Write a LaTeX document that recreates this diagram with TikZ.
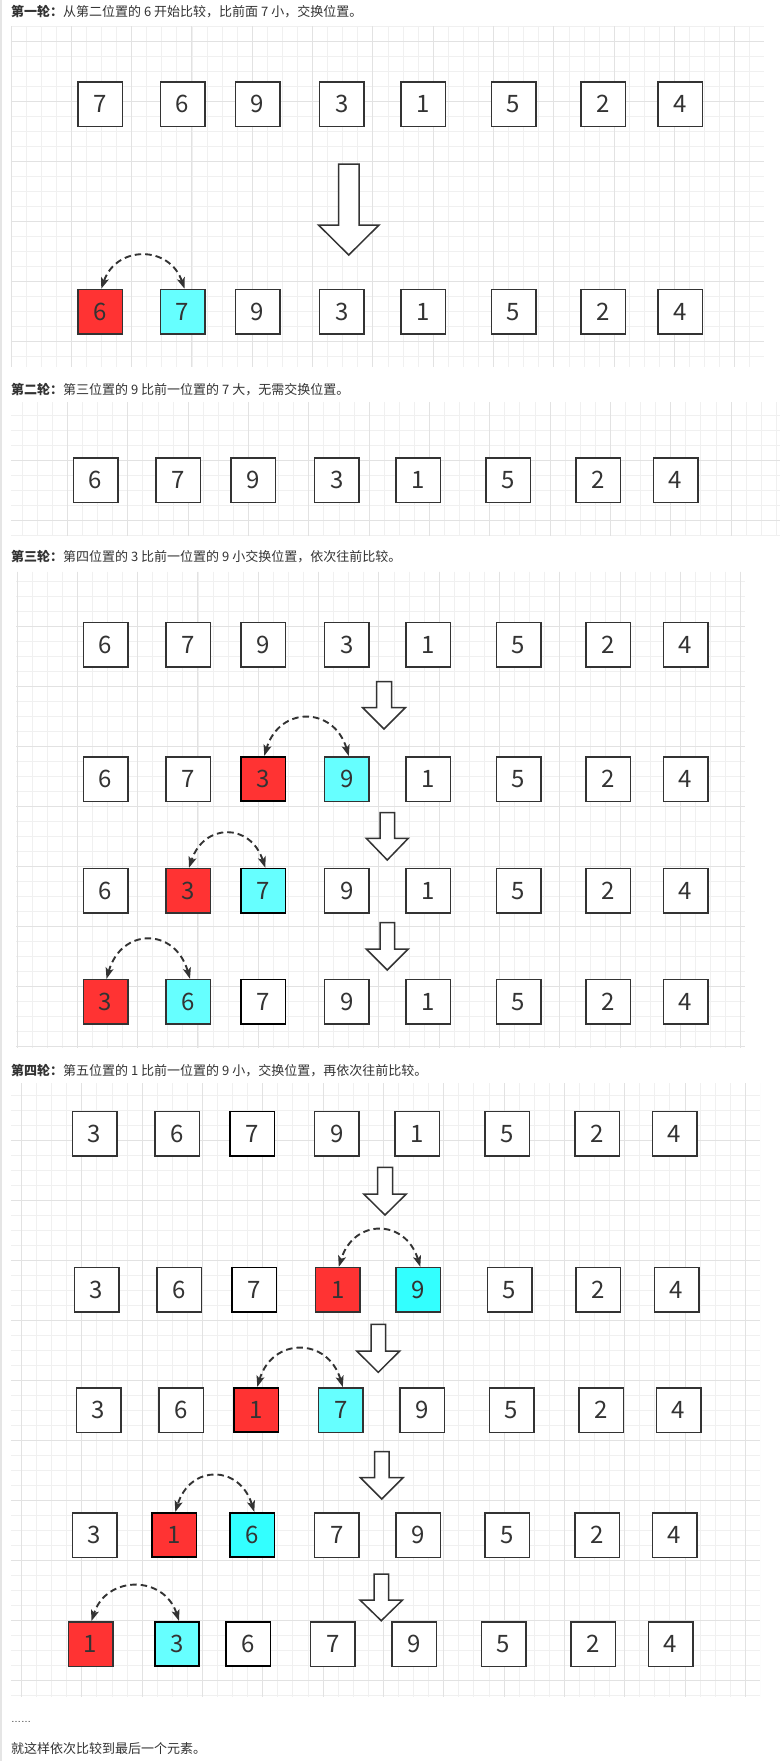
\documentclass[tikz,border=0pt]{standalone}
\usepackage{fontspec}
\setmainfont{Noto Sans CJK SC}
\newfontfamily\digitfont{Noto Sans CJK SC}
\newfontfamily\latinfont{Liberation Sans}
\usetikzlibrary{arrows.meta}
\definecolor{ink}{HTML}{333333}
\definecolor{redf}{HTML}{FF3333}
\definecolor{cyanf}{HTML}{66FFFF}
\definecolor{cyanb}{HTML}{33FFFF}
\definecolor{gminor}{HTML}{F0F0F0}
\definecolor{gmajor}{HTML}{E2E2E2}
\tikzset{
  wbox/.style={draw=ink, line width=1.5pt, fill=white, minimum width=44.5pt, minimum height=44.5pt, inner sep=0pt, text=ink, font=\digitfont\fontsize{24}{24}\selectfont},
  wboxk/.style={wbox, draw=black, line width=1.7pt},
  rbox/.style={wbox, fill=redf},
  rboxk/.style={wboxk, fill=redf},
  cbox/.style={wbox, fill=cyanf},
  cboxk/.style={wboxk, fill=cyanf},
  bbox/.style={wbox, fill=cyanb},
  bboxk/.style={wboxk, fill=cyanb},
  gminorline/.style={draw=gminor, line width=0.9pt},
  gmajorline/.style={draw=gmajor, line width=1pt},
  swaparc/.style={draw=ink, line width=1.9pt, dash pattern=on 6.5pt off 4pt,
     {Stealth[length=11pt,width=8pt,inset=2.5pt]}-{Stealth[length=11pt,width=8pt,inset=2.5pt]}},
  blockarrow/.style={draw=ink, line width=1.5pt, fill=white, line join=miter},
  title/.style={anchor=base west, inner sep=0pt, text=ink, font=\fontsize{13}{13}\selectfont}
}
% grid: x0 y0 x1 y1 originx originy
\newcommand\panelgrid[6]{%
  \begin{scope}
    \clip (#1,#2) rectangle (#3,#4);
    \foreach \i in {-8,...,56}{\draw[gminorline] ({#5+15.08*\i},#2) -- ({#5+15.08*\i},#4);}
    \foreach \i in {-8,...,44}{\draw[gminorline] (#1,{#6+15*\i}) -- (#3,{#6+15*\i});}
    \foreach \i in {-2,...,14}{\draw[gmajorline] ({#5+60.32*\i},#2) -- ({#5+60.32*\i},#4);}
    \foreach \i in {-2,...,11}{\draw[gmajorline] (#1,{#6+60*\i}) -- (#3,{#6+60*\i});}
  \end{scope}}
% row of boxes: prefix, y, list x/label/style
\newcommand\boxrow[3]{%
  \foreach \x/\t/\s [count=\k] in {#3} {\node[\s] (#1\k) at (\x,#2) {\t};}}
% block arrow: cx, top, headtop, tip, shaft half, head half
\newcommand\blockarr[6]{%
  \draw[blockarrow] ({#1-#5},#2) -- ({#1+#5},#2) -- ({#1+#5},#3) -- ({#1+#6},#3)
     -- (#1,#4) -- ({#1-#6},#3) -- ({#1-#5},#3) -- cycle;}
% swap arc: from cyan node to red node, height control
\newcommand\swaparc[3]{%
  \draw[swaparc] ([xshift=2pt]#1.north) .. controls +(-15,-#3) and +(15,-#3) .. ([xshift=1pt]#2.north);}

\begin{document}
\begin{tikzpicture}[x=1pt,y=-1pt]
\fill[white] (0,0) rectangle (780,1761);
\useasboundingbox (0,0) rectangle (780,1761);
\draw[draw=black!10, line width=1.5pt] (0.75,0) -- (0.75,1761);

% ---------- panel 1
\node[title] (t1) at (11,17) {\bfseries 第一轮：\mdseries 从第二位置的 6 开始比较，比前面 7 小，交换位置。};
\panelgrid{11}{26.5}{764}{367}{11}{41.7}
\boxrow{pa}{104}{100.3/7/wbox, 182.5/6/wbox, 257.5/9/wbox, 341.7/3/wbox, 423.2/1/wbox, 513.5/5/wbox, 603/2/wbox, 680.3/4/wbox}
\blockarr{348.75}{164}{225}{255}{10.25}{30.25}
\boxrow{pb}{311.7}{100.3/6/rbox, 182.5/7/cbox, 257.5/9/wbox, 341.7/3/wbox, 423.2/1/wbox, 513.5/5/wbox, 603/2/wbox, 680.3/4/wbox}
\swaparc{pb2}{pb1}{43.6}

% ---------- panel 2
\node[title] (t2) at (11,394) {\bfseries 第二轮：\mdseries 第三位置的 9 比前一位置的 7 大，无需交换位置。};
\panelgrid{11}{402.3}{780}{535.7}{7.2}{460.7}
\boxrow{qa}{480}{95.5/6/wbox, 178/7/wbox, 253.3/9/wbox, 336.8/3/wbox, 418/1/wbox, 508.3/5/wbox, 598/2/wbox, 675.5/4/wbox}

% ---------- panel 3
\node[title] (t3) at (11,561.5) {\bfseries 第三轮：\mdseries 第四位置的 3 比前一位置的 9 小交换位置，依次往前比较。};
\panelgrid{16}{571.7}{745}{1048.3}{17}{626.7}
\boxrow{ra}{644.8}{105.5/6/wbox, 188/7/wbox, 263.3/9/wbox, 346.8/3/wbox, 428.3/1/wbox, 518.5/5/wbox, 608/2/wbox, 685.5/4/wbox}
\blockarr{384}{681.7}{707.7}{729}{7.5}{21.25}
\boxrow{rb}{779}{105.5/6/wbox, 188/7/wbox, 263.3/3/rboxk, 346.8/9/cbox, 428.3/1/wbox, 518.5/5/wbox, 608/2/wbox, 685.5/4/wbox}
\swaparc{rb4}{rb3}{50}
\blockarr{387.25}{812.7}{838.3}{860}{7.25}{21}
\boxrow{rc}{890.8}{105.5/6/wbox, 188/3/rbox, 263.3/7/cboxk, 346.8/9/wbox, 428.3/1/wbox, 518.5/5/wbox, 608/2/wbox, 685.5/4/wbox}
\swaparc{rc3}{rc2}{45}
\blockarr{387.25}{922.7}{949}{970}{7.25}{21}
\boxrow{rd}{1001.8}{105.5/3/rbox, 188/6/cbox, 263.3/7/wboxk, 346.8/9/wbox, 428.3/1/wbox, 518.5/5/wbox, 608/2/wbox, 685.5/4/wbox}
\swaparc{rd2}{rd1}{51.5}

% ---------- panel 4
\node[title] (t4) at (11,1075) {\bfseries 第四轮：\mdseries 第五位置的 1 比前一位置的 9 小，交换位置，再依次往前比较。};
\panelgrid{11}{1083.3}{760}{1696.7}{21.5}{1140}
\boxrow{sa}{1133.8}{94.5/3/wbox, 177/6/wbox, 252.3/7/wboxk, 336.8/9/wbox, 417.3/1/wbox, 507.3/5/wbox, 597/2/wbox, 674.5/4/wbox}
\blockarr{385}{1167.3}{1194}{1215}{7.5}{21.25}
\boxrow{sb}{1289.8}{96.5/3/wbox, 179/6/wbox, 254.3/7/wboxk, 337.8/1/rbox, 418.3/9/bbox, 509.5/5/wbox, 598/2/wbox, 676.5/4/wbox}
\swaparc{sb5}{sb4}{48.5}
\blockarr{378.25}{1324.3}{1351}{1372.3}{7.25}{21.5}
\boxrow{sc}{1410}{98.5/3/wbox, 181/6/wbox, 256.3/1/rboxk, 340.8/7/cbox, 422.3/9/wbox, 511.5/5/wbox, 601/2/wbox, 678.5/4/wbox}
\swaparc{sc4}{sc3}{50}
\blockarr{381.75}{1451.7}{1477.7}{1499}{7.25}{21.25}
\boxrow{sd}{1535}{94.5/3/wbox, 174.3/1/rboxk, 252.3/6/bboxk, 336.8/7/wbox, 418.3/9/wbox, 507.3/5/wbox, 597/2/wbox, 674.5/4/wbox}
\swaparc{sd3}{sd2}{47.5}
\blockarr{381.25}{1574}{1600}{1620.7}{7.25}{21.25}
\boxrow{se}{1644}{90.5/1/rbox, 177/3/cboxk, 248.3/6/wboxk, 332.8/7/wbox, 414.3/9/wbox, 503.5/5/wbox, 593/2/wbox, 670.5/4/wbox}
\swaparc{se2}{se1}{46}

% ---------- footer
\node[title, font=\latinfont\fontsize{10}{10}\selectfont] (dots) at (11,1722.5) {……};
\node[title] (t5) at (11,1753.5) {就这样依次比较到最后一个元素。};
\end{tikzpicture}
\end{document}
